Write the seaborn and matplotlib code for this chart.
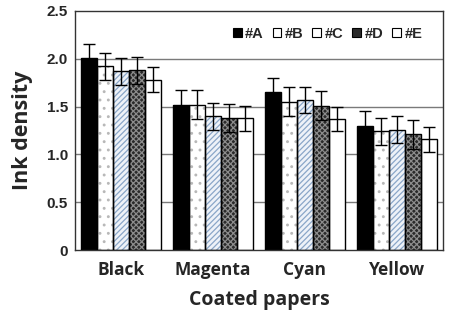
import numpy as np
import pandas as pd
import matplotlib
matplotlib.use("Agg")
import matplotlib.pyplot as plt
from matplotlib.patches import Patch, Rectangle
import seaborn as sns

papers = ["Black", "Magenta", "Cyan", "Yellow"]
inks = ["#A", "#B", "#C", "#D", "#E"]
means_A = [2.01, 1.52, 1.65, 1.30]
means_B = [1.92, 1.52, 1.55, 1.24]
means_C = [1.87, 1.40, 1.57, 1.26]
means_D = [1.88, 1.38, 1.51, 1.21]
means_E = [1.78, 1.38, 1.37, 1.16]
err_A = [0.14, 0.15, 0.15, 0.15]
err_B = [0.14, 0.15, 0.15, 0.14]
err_C = [0.14, 0.14, 0.14, 0.14]
err_D = [0.14, 0.15, 0.15, 0.15]
err_E = [0.13, 0.13, 0.13, 0.13]
y_ticks = [0, 0.5, 1.0, 1.5, 2.0, 2.5]
y_ticklabels = ["0", "0.5", "1.0", "1.5", "2.0", "2.5"]

means = [means_A, means_B, means_C, means_D, means_E]
errs = [err_A, err_B, err_C, err_D, err_E]
rows = []
for ink, m, e in zip(inks, means, errs):
    for p, v, ee in zip(papers, m, e):
        rows.append({"paper": p, "ink": ink, "value": v, "err": ee})
df = pd.DataFrame(rows)

sns.set_style("white")
plt.rcParams["hatch.linewidth"] = 0.9

styles = {
    "#A": dict(face="#000000", hatch=None, hcol="#000000"),
    "#B": dict(face="#ffffff", hatch="..", hcol="#b8b8b8"),
    "#C": dict(face="#eef2f8", hatch="//////", hcol="#8aa6c8"),
    "#D": dict(face="#2a2a2a", hatch="xxxxxx", hcol="#8c8c8c"),
    "#E": dict(face="#ffffff", hatch=None, hcol="#ffffff"),
}

fig = plt.figure(figsize=(4.53, 3.26), dpi=100)
ax = fig.add_axes([75 / 453, 1 - 250 / 326, (443 - 75) / 453, (250 - 11) / 326])

sns.barplot(data=df, x="paper", y="value", hue="ink", order=papers, hue_order=inks,
            errorbar=None, width=0.88, gap=0, ax=ax, legend=False, zorder=2)

for ink, cont in zip(inks, ax.containers):
    st = styles[ink]
    sub = df[df.ink == ink].set_index("paper").loc[papers]
    xs, ys = [], []
    for bar in cont:
        bar.set_facecolor(st["face"])
        bar.set_edgecolor(st["hcol"])
        bar.set_linewidth(0)
        if st["hatch"]:
            bar.set_hatch(st["hatch"])
        outline = Rectangle(bar.get_xy(), bar.get_width(), bar.get_height(),
                            fill=False, edgecolor="black", linewidth=1.0, zorder=3)
        ax.add_patch(outline)
        xs.append(bar.get_x() + bar.get_width() / 2)
        ys.append(bar.get_height())
    ax.errorbar(xs, ys, yerr=sub["err"].values, fmt="none", ecolor="black",
                elinewidth=1.0, capsize=4, capthick=1.0, zorder=4)

label_font = ["Open Sans", "Lato", "DejaVu Sans"]

ax.set_ylim(0, 2.5)
ax.set_xlim(-0.5, 3.5)
ax.set_yticks(y_ticks)
ax.set_yticklabels(y_ticklabels, fontfamily="Liberation Sans", fontweight="bold", fontsize=11)
for g in [0.5, 1.0, 1.5, 2.0]:
    ax.axhline(g, color="#7a7a7a", linewidth=1.0, zorder=1)

ax.set_xticks([0, 1, 2, 3])
ax.set_xticklabels(papers, fontfamily=label_font, fontweight="bold", fontsize=12.5)
ax.tick_params(axis="x", which="major", length=0, pad=8)
ax.set_xticks([0.5, 1.5, 2.5], minor=True)
ax.tick_params(axis="x", which="minor", length=4, width=1, direction="out", color="#333333")
ax.tick_params(axis="y", length=3, width=1, direction="out", color="#333333", pad=2)

for s in ax.spines.values():
    s.set_color("#333333")
    s.set_linewidth(1.0)

ax.set_xlabel("Coated papers", fontfamily=label_font, fontweight="bold", fontsize=14, labelpad=8)
ax.set_ylabel("Ink density", fontfamily=label_font, fontweight="bold", fontsize=15.5, labelpad=10)

handles = [Patch(facecolor=styles[i]["face"] if i != "#C" else "#ffffff", edgecolor="black",
                 linewidth=0.8) for i in inks]
ax.legend(handles, inks, loc="upper right", ncol=5, frameon=False,
          bbox_to_anchor=(0.98, 0.99), handlelength=0.6, handleheight=0.6,
          handletextpad=0.25, columnspacing=0.6,
          prop=dict(family="Liberation Sans", weight="bold", size=10.5))

fig.savefig("out.png", dpi=100)
